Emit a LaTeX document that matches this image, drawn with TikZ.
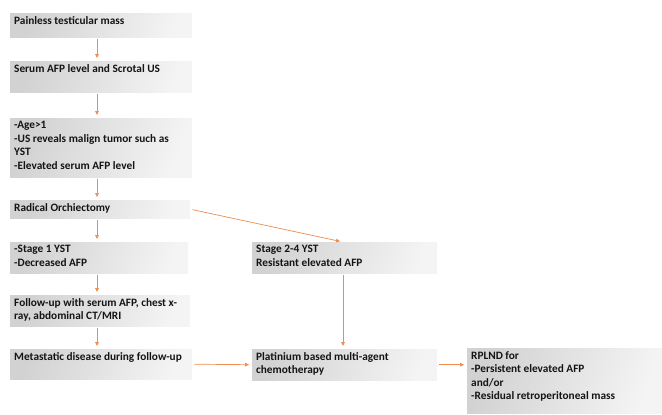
\documentclass[tikz,border=0pt]{standalone}
\usepackage{fontspec}
\setmainfont{Carlito}
\usetikzlibrary{arrows.meta}
\definecolor{arrowor}{RGB}{237,140,80}
\definecolor{txt}{RGB}{20,20,20}
\definecolor{boxl}{RGB}{210,210,210}
\definecolor{boxr}{RGB}{244,244,244}
\newcommand{\bxt}[3]{\parbox[c][#2][t]{#1}{\raggedright #3}}
\tikzset{
  fbox/.style={anchor=north west, inner xsep=4pt, inner ysep=3pt, left color=boxl, right color=boxr, shading angle=70, draw=none,
    font=\fontsize{11.3}{13.5}\selectfont\bfseries, text=txt, align=left},
  arr/.style={draw=arrowor, line width=0.7pt, -{Triangle[length=4pt,width=3.6pt]}, shorten <=2pt, shorten >=3pt}
}
\begin{document}
\begin{tikzpicture}[x=1pt,y=-1pt]
\useasboundingbox (0,0) rectangle (662,415);
\node[fbox] (b1) at (10,13) {\bxt{174pt}{18pt}{Painless testicular mass}};
\node[fbox] (b2) at (10,61) {\bxt{174pt}{25pt}{Serum AFP level and Scrotal US}};
\node[fbox] (b3) at (10,118) {\bxt{174pt}{53pt}{-Age>1\\-US reveals malign tumor such as\\YST\\-Elevated serum AFP level}};
\node[fbox] (b4) at (10,200) {\bxt{172pt}{12pt}{Radical Orchiectomy}};
\node[fbox] (b5) at (10,242) {\bxt{170pt}{25pt}{-Stage 1 YST\\-Decreased AFP}};
\node[fbox] (b6) at (10,295) {\bxt{172pt}{25pt}{Follow-up with serum AFP, chest x-\\ray, abdominal CT/MRI}};
\node[fbox] (b7) at (10,349) {\bxt{174pt}{24pt}{Metastatic disease during follow-up}};
\node[fbox] (b8) at (252,242) {\bxt{177pt}{25pt}{Stage 2-4 YST\\Resistant elevated AFP}};
\node[fbox] (b9) at (252,349) {\bxt{177pt}{25pt}{Platinium based multi-agent\\chemotherapy}};
\node[fbox] (b10) at (467,348) {\bxt{187pt}{59pt}{RPLND for\\-Persistent elevated AFP\\and/or\\-Residual retroperitoneal mass}};
\coordinate (lx) at (97,0);
\coordinate (rx) at (343,0);
\draw[arr] (b1.south -| lx) -- (b2.north -| lx);
\draw[arr] (b2.south -| lx) -- (b3.north -| lx);
\draw[arr] (b3.south -| lx) -- (b4.north -| lx);
\draw[arr] (b4.south -| lx) -- (b5.north -| lx);
\draw[arr] (b5.south -| lx) -- (b6.north -| lx);
\draw[arr] (b6.south -| lx) -- (b7.north -| lx);
\draw[arr] (b4.east) -- (b8.north -| rx);
\draw[arr] (b8.south -| rx) -- (b9.north -| rx);
\draw[arr] (b7.east) -- (b9.west);
\draw[arr] (b9.east) -- (b9.east -| b10.west);
\end{tikzpicture}
\end{document}
